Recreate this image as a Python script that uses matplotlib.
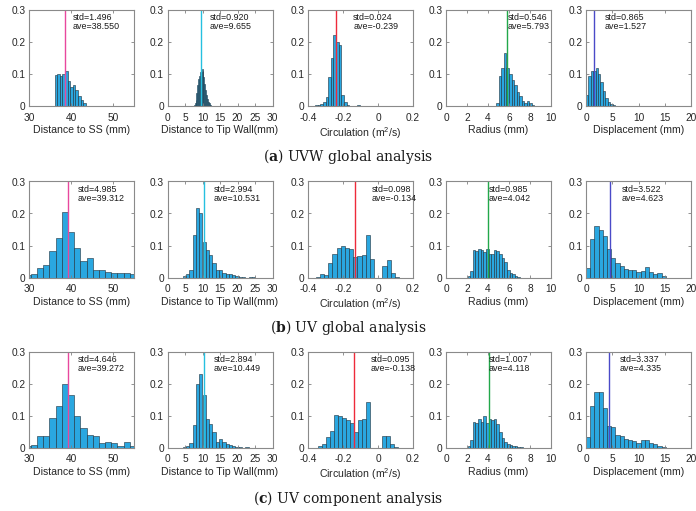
import matplotlib
matplotlib.use("Agg")
import matplotlib.pyplot as plt
import numpy as np

plt.rcParams['font.family'] = ['Liberation Sans', 'DejaVu Sans']
plt.rcParams['axes.unicode_minus'] = False
plt.rcParams['mathtext.fontset'] = 'custom'
plt.rcParams['mathtext.rm'] = 'Liberation Sans'
plt.rcParams['mathtext.it'] = 'Liberation Sans:italic'
plt.rcParams['mathtext.bf'] = 'DejaVu Serif:bold'

# ---- shared panel settings
xlabels = ['Distance to SS (mm)', 'Distance to Tip Wall(mm)',
           'Circulation (m$^2$/s)', 'Radius (mm)', 'Displacement (mm)']
xlims = [(30, 55), (0, 30), (-0.4, 0.2), (0, 10), (0, 20)]
xticks = [[30, 40, 50], [0, 5, 10, 15, 20, 25, 30], [-0.4, -0.2, 0, 0.2],
          [0, 2, 4, 6, 8, 10], [0, 5, 10, 15, 20]]
xticklabels = [['30', '40', '50'], ['0', '5', '10', '15', '20', '25', '30'],
               ['-0.4', '-0.2', '0', '0.2'], ['0', '2', '4', '6', '8', '10'],
               ['0', '5', '10', '15', '20']]
line_colors = ['#e8489e', '#25c0e0', '#ee2a3a', '#22a84a', '#4a4ac8']

# ---- (a) UVW global analysis
uvw_std = [1.496, 0.920, 0.024, 0.546, 0.865]
uvw_ave = [38.550, 9.655, -0.239, 5.793, 1.527]
uvw_bin_start = [36.1, 7.5, -0.36, 4.8, 0.0]
uvw_bin_width = [0.62, 0.25, 0.015, 0.24, 0.46]
uvw_ss = [0.097, 0.1, 0.093, 0.1, 0.11, 0.078, 0.058, 0.065, 0.05, 0.03, 0.02, 0.01]
uvw_tip = [0.003, 0.008, 0.02, 0.04, 0.065, 0.085, 0.095, 0.105, 0.107, 0.115,
           0.11, 0.09, 0.07, 0.05, 0.035, 0.022, 0.013, 0.008, 0.004, 0.002]
uvw_circ = [0.002, 0.004, 0.006, 0.012, 0.028, 0.09, 0.15, 0.222, 0.2, 0.19,
            0.035, 0.012, 0.004, 0, 0, 0, 0.004]
uvw_rad = [0.01, 0.095, 0.12, 0.165, 0.12, 0.1, 0.08, 0.065, 0.045, 0.03,
           0.015, 0.008, 0.015, 0.01, 0.003]
uvw_disp = [0.035, 0.095, 0.11, 0.11, 0.12, 0.1, 0.075, 0.047, 0.025, 0.013,
            0.006, 0.003]

# ---- (b) UV global analysis
uvg_std = [4.985, 2.994, 0.098, 0.985, 3.522]
uvg_ave = [39.312, 10.531, -0.134, 4.042, 4.623]
uvg_bin_start = [29.0, 3.42, -0.356, 2.05, 0.0]
uvg_bin_width = [1.47, 0.94, 0.0238, 0.25, 0.8]
uvg_ss = [0.008, 0.01, 0.03, 0.04, 0.082, 0.123, 0.205, 0.142, 0.092, 0.053,
          0.06, 0.025, 0.025, 0.018, 0.015, 0.013, 0.013, 0.01]
uvg_tip = [0, 0.005, 0.01, 0.025, 0.133, 0.218, 0.2, 0.11, 0.085, 0.07, 0.045,
           0.025, 0.025, 0.015, 0.01, 0.01, 0.008, 0.004, 0.002, 0.001, 0,
           0.002, 0.003]
uvg_circ = [0.003, 0.01, 0.008, 0.045, 0.075, 0.093, 0.098, 0.092, 0.088,
            0.065, 0.068, 0.07, 0.133, 0.058, 0, 0, 0.037, 0.055, 0.015, 0.002]
uvg_rad = [0.005, 0.02, 0.085, 0.083, 0.09, 0.085, 0.08, 0.088, 0.075, 0.072,
           0.086, 0.083, 0.075, 0.062, 0.047, 0.023, 0.015, 0.01, 0.006, 0.003]
uvg_disp = [0.03, 0.12, 0.16, 0.15, 0.13, 0.088, 0.06, 0.045, 0.036, 0.028,
            0.024, 0.023, 0.018, 0.02, 0.033, 0.018, 0.012, 0.013, 0.005]

# ---- (c) UV component analysis
uvc_std = [4.646, 2.894, 0.095, 1.007, 3.337]
uvc_ave = [39.272, 10.449, -0.138, 4.118, 4.335]
uvc_bin_start = [29.0, 3.42, -0.343, 2.05, 0.0]
uvc_bin_width = [1.47, 0.94, 0.0228, 0.25, 0.8]
uvc_ss = [0.006, 0.008, 0.035, 0.035, 0.093, 0.13, 0.197, 0.165, 0.1, 0.06,
          0.04, 0.035, 0.015, 0.018, 0.015, 0.005, 0.018, 0.005]
uvc_tip = [0, 0.002, 0.005, 0.015, 0.07, 0.197, 0.23, 0.165, 0.088, 0.075,
           0.05, 0.018, 0.028, 0.018, 0.01, 0.008, 0.005, 0.003, 0.002, 0, 0.002]
uvc_circ = [0.005, 0.012, 0.032, 0.053, 0.101, 0.097, 0.092, 0.085, 0.078,
            0.05, 0.085, 0.088, 0.143, 0, 0, 0, 0.037, 0.037, 0.01, 0.003]
uvc_rad = [0.005, 0.025, 0.08, 0.078, 0.09, 0.08, 0.1, 0.077, 0.09, 0.085,
           0.088, 0.075, 0.05, 0.03, 0.018, 0.01, 0.008, 0.005, 0.005, 0.003, 0.002]
uvc_disp = [0.033, 0.13, 0.172, 0.172, 0.125, 0.067, 0.063, 0.04, 0.037, 0.028,
            0.025, 0.02, 0.013, 0.022, 0.022, 0.015, 0.01, 0.005, 0.003]

rows = [
    ('a', 'UVW global analysis', uvw_std, uvw_ave, uvw_bin_start, uvw_bin_width,
     [uvw_ss, uvw_tip, uvw_circ, uvw_rad, uvw_disp]),
    ('b', 'UV global analysis', uvg_std, uvg_ave, uvg_bin_start, uvg_bin_width,
     [uvg_ss, uvg_tip, uvg_circ, uvg_rad, uvg_disp]),
    ('c', 'UV component analysis', uvc_std, uvc_ave, uvc_bin_start, uvc_bin_width,
     [uvc_ss, uvc_tip, uvc_circ, uvc_rad, uvc_disp]),
]

# layout in pixels (figure is 696 x 511)
W, H = 696, 511
col_left = [29, 167.5, 308, 446, 586]
ax_w = 105
row_top = [10, 181.5, 351.5]
ax_h = 96
caption_y = [156, 327, 498]
text_x = [[0.42, 0.40, 0.43, 0.585, 0.18],
          [0.46, 0.44, 0.607, 0.405, 0.336],
          [0.46, 0.44, 0.597, 0.41, 0.32]]

fig = plt.figure(figsize=(W / 100, H / 100), dpi=100)

for r, (letter, title, stds, aves, starts, widths, hists) in enumerate(rows):
    for c in range(5):
        ax = fig.add_axes([col_left[c] / W, 1 - (row_top[r] + ax_h) / H,
                           ax_w / W, ax_h / H])
        heights = hists[c]
        edges = starts[c] + widths[c] * np.arange(len(heights))
        ax.bar(edges, heights, width=widths[c], align='edge',
               color='#2aa7e0', edgecolor='#1d2d38', linewidth=0.4)
        ax.axvline(aves[c], color=line_colors[c], lw=1.0)
        ax.text(text_x[r][c], 0.965, 'std=%.3f\nave=%.3f' % (stds[c], aves[c]),
                transform=ax.transAxes, ha='left', va='top', fontsize=6.4,
                linespacing=1.0, color='#1a1a1a')
        ax.set_xlim(*xlims[c])
        ax.set_ylim(0, 0.3)
        ax.set_xticks(xticks[c])
        ax.set_xticklabels(xticklabels[c])
        ax.set_yticks([0, 0.1, 0.2, 0.3])
        ax.set_yticklabels(['0', '0.1', '0.2', '0.3'])
        ax.tick_params(direction='in', length=2.5, width=0.6, color='#808080',
                       labelsize=7.3, labelcolor='#262626', top=True, right=True)
        ax.tick_params(axis='x', pad=5)
        ax.tick_params(axis='y', pad=2.5)
        for sp in ax.spines.values():
            sp.set_color('#8a8a8a')
            sp.set_linewidth(0.8)
        ax.set_xlabel(xlabels[c], fontsize=7.6, color='#262626', labelpad=1.5)
    fig.text(0.5, 1 - caption_y[r] / H, r'($\mathbf{%s}$) %s' % (letter, title),
             ha='center', va='center', family='DejaVu Serif', fontsize=10,
             color='#1a1a1a')

fig.savefig('out.png', dpi=100)
